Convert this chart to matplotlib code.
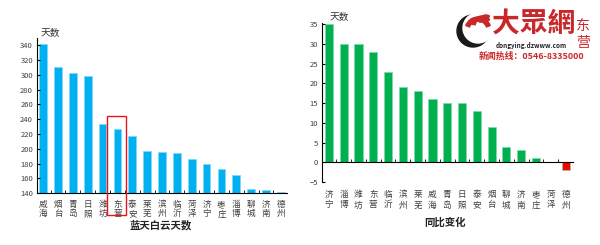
import matplotlib
matplotlib.use('Agg')
import matplotlib.pyplot as plt
from matplotlib.patches import Circle, Wedge
import numpy as np

plt.rcParams['font.family'] = ['Noto Sans CJK SC', 'DejaVu Sans']

# left chart: days of blue sky
cities_days = ['威海', '烟台', '青岛', '日照', '潍坊', '东营', '泰安', '莱芜', '滨州',
               '临沂', '菏泽', '济宁', '枣庄', '淄博', '聊城', '济南', '德州']
days = [342, 311, 302, 298, 233, 227, 217, 197, 195, 194, 186, 180, 172, 165, 145, 144, 142]
days_ticks = [140, 160, 180, 200, 220, 240, 260, 280, 300, 320, 340]

# right chart: year-on-year change
cities_change = ['济宁', '淄博', '潍坊', '东营', '临沂', '滨州', '莱芜', '威海', '青岛',
                 '日照', '泰安', '烟台', '聊城', '济南', '枣庄', '菏泽', '德州']
change = [35, 30, 30, 28, 23, 19, 18, 16, 15, 15, 13, 9, 4, 3, 1, 0, -2]
change_ticks = [-5, 0, 5, 10, 15, 20, 25, 30, 35]

BLUE = '#00b0f0'
GREEN = '#00b050'
RED = '#ff0000'
GREY = '#404040'
LOGO_RED = '#c8282a'

fig = plt.figure(figsize=(6, 2.45), dpi=100)


def vlabel(name):
    return '\n'.join(name)


def style(ax):
    for s in ['top', 'right']:
        ax.spines[s].set_visible(False)
    ax.spines['left'].set_linewidth(0.8)
    ax.spines['bottom'].set_linewidth(0.8)
    ax.tick_params(axis='y', direction='in', length=2, labelsize=5.5, labelcolor=GREY, pad=3)
    ax.tick_params(axis='x', which='major', length=0, labelsize=6.2, labelcolor=GREY)
    ax.tick_params(axis='x', which='minor', direction='in', length=2)


# ---- left chart
ax1 = fig.add_axes([0.062, 0.212, 0.416, 0.633])
x1 = np.arange(len(days))
ax1.bar(x1, days, width=0.52, color=BLUE, edgecolor='#7fd8f8', linewidth=0.5)
ax1.set_ylim(140, 350)
ax1.set_xlim(-0.4, 16.4)
ax1.set_yticks(days_ticks)
ax1.set_xticks(x1)
ax1.set_xticklabels([vlabel(c) for c in cities_days], linespacing=1.05)
ax1.set_xticks(x1[:-1] + 0.5, minor=True)
style(ax1)
ax1.tick_params(axis='x', which='major', pad=5)
ax1.text(0.012, 1.0, '天数', transform=ax1.transAxes, fontsize=7, color='#333333',
         ha='left', va='bottom')
fig.text(0.267, 0.08, '蓝天白云天数', fontsize=7.5, fontweight='bold', color='#222222',
         ha='center', va='center')

# red box around 东营
fig.add_artist(plt.Rectangle((107 / 600, 1 - 215 / 245), 19 / 600, 99 / 245,
                             fill=False, edgecolor='#e8141b', linewidth=1.0,
                             transform=fig.transFigure))

# ---- right chart
ax2 = fig.add_axes([0.537, 0.257, 0.418, 0.649])
x2 = np.arange(len(change))
colors = [GREEN if v >= 0 else RED for v in change]
ax2.bar(x2, change, width=0.55, color=colors, edgecolor='#80d8a8', linewidth=0.5)
ax2.set_ylim(-5, 35.3)
ax2.set_xlim(-0.45, 16.5)
ax2.set_yticks(change_ticks)
ax2.set_xticks(x2)
ax2.set_xticklabels([vlabel(c) for c in cities_change], linespacing=1.05)
ax2.set_xticks(x2[:-1] + 0.5, minor=True)
ax2.spines['bottom'].set_position(('data', 0))
style(ax2)
ax2.tick_params(axis='x', which='major', pad=20)
ax2.text(0.03, 1.01, '天数', transform=ax2.transAxes, fontsize=7, color='#333333',
         ha='left', va='bottom')
fig.text(0.742, 0.09, '同比变化', fontsize=7.5, fontweight='bold', color='#222222',
         ha='center', va='center')

# ---- logo (approximation), axes in pixel units of the top-right corner
logo = fig.add_axes([450 / 600, 1 - 65 / 245, 150 / 600, 65 / 245])
logo.set_xlim(450, 600)
logo.set_ylim(65, 0)
logo.axis('off')
logo.add_patch(Circle((473, 31), 16, color='#1a1a1a'))
logo.add_patch(Circle((478, 28), 15, color='white'))
logo.add_patch(Wedge((478, 30), 13, 200, 340, width=4, color=LOGO_RED))
logo.add_patch(Wedge((482, 26), 10, 190, 320, width=3, color=LOGO_RED))
logo.add_patch(Wedge((486, 22), 7, 180, 300, width=2.5, color=LOGO_RED))
logo.text(534, 24, '大眾網', fontsize=20, color=LOGO_RED, fontweight='bold',
          ha='center', va='center', style='italic')
logo.text(583, 26, '东', fontsize=10, color=LOGO_RED, ha='center', va='center')
logo.text(583, 43, '营', fontsize=10, color=LOGO_RED, ha='center', va='center')
logo.text(531, 45, 'dongying.dzwww.com', fontsize=4.6, color='#222222', fontweight='bold',
          ha='center', va='center')
logo.text(532, 56, '新闻热线：0546-8335000', fontsize=6.4, color=LOGO_RED, fontweight='bold',
          ha='center', va='center')

fig.savefig('out.png', dpi=100)
